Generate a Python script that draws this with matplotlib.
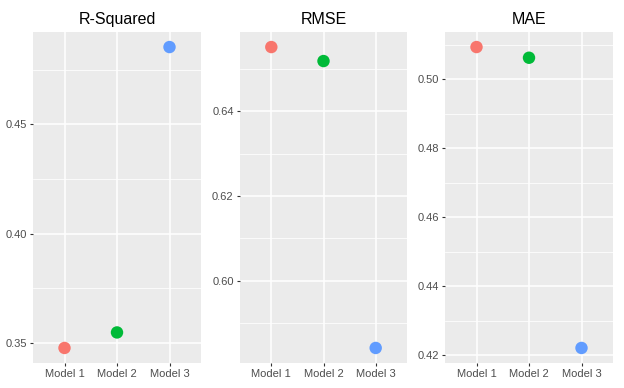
import numpy as np
import matplotlib.pyplot as plt

plt.rcParams['font.family'] = ['Liberation Sans', 'DejaVu Sans']

models = ['Model 1', 'Model 2', 'Model 3']
colors = ['#F8766D', '#00BA38', '#619CFF']

r_squared = [0.3477, 0.3548, 0.4854]
rmse = [0.6551, 0.6518, 0.5842]
mae = [0.5093, 0.5062, 0.4221]

titles = ['R-Squared', 'RMSE', 'MAE']
values = [r_squared, rmse, mae]
ticks = [[0.35, 0.40, 0.45], [0.60, 0.62, 0.64], [0.42, 0.44, 0.46, 0.48, 0.50]]

# panel positions in pixels (left, right)
W, H = 624, 388
lefts = [(33, 201), (240, 407), (445, 613)]
top, bottom = 32, 363

fig = plt.figure(figsize=(W / 100, H / 100), dpi=100)
fig.patch.set_facecolor('white')

for (l, r), title, vals, tk in zip(lefts, titles, values, ticks):
    ax = fig.add_axes([l / W, 1 - bottom / H, (r - l) / W, (bottom - top) / H])
    ax.set_facecolor('#EBEBEB')
    x = np.arange(len(models))
    ax.scatter(x, vals, c=colors, s=80, zorder=3, linewidths=0)

    ax.set_xticks(x)
    ax.set_xticklabels(models)
    ax.set_yticks(tk)
    ax.set_yticklabels(['%.2f' % t for t in tk])
    # minor gridlines halfway between majors
    step = tk[1] - tk[0]
    minor = [t - step / 2 for t in tk] + [tk[-1] + step / 2]
    ax.set_yticks(minor, minor=True)

    # ggplot-style 5% expansion, set after ticks so they don't widen it
    lo, hi = min(vals), max(vals)
    pad = (hi - lo) * 0.05
    ax.set_ylim(lo - pad, hi + pad)
    ax.set_xlim(-0.6, 2.6)

    ax.grid(True, which='major', color='white', linewidth=1.1, zorder=0)
    ax.grid(True, which='minor', axis='y', color='white', linewidth=0.55, zorder=0)
    ax.set_axisbelow(True)
    ax.tick_params(which='major', length=2.5, width=0.8, color='#333333',
                   labelsize=8, labelcolor='#4D4D4D', pad=2)
    ax.tick_params(which='minor', length=0)
    for sp in ax.spines.values():
        sp.set_visible(False)
    ax.set_title(title, fontsize=11.5, color='black', pad=6)

fig.savefig('out.png', dpi=100)
